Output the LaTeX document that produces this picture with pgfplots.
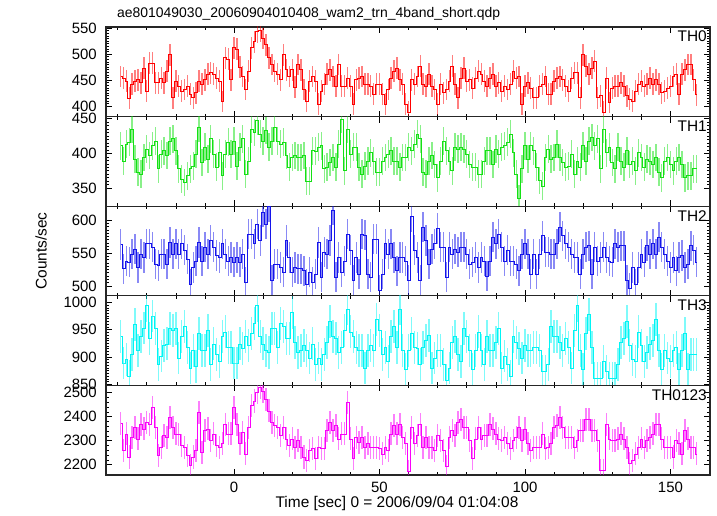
\documentclass[border=0pt]{standalone}
\usepackage{fontspec}
\setmainfont{Liberation Sans}
\usepackage{pgfplots}
\usepackage{pgfplotstable}
\pgfplotsset{compat=1.18}
\definecolor{cR}{RGB}{255,0,0}
\definecolor{cG}{RGB}{20,225,20}
\definecolor{cB}{RGB}{20,20,235}
\definecolor{cC}{RGB}{0,245,245}
\definecolor{cM}{RGB}{250,0,250}
\pgfplotstableread{
t a b c d e
-39 457 411 563 937 2372
-38 454 389 526 889 2259
-37 448 413 538 895 2328
-36 415 416 536 864 2232
-35 442 435 548 905 2314
-34 448 392 556 959 2355
-33 451 373 528 912 2307
-32 445 370 548 937 2369
-31 473 394 543 953 2349
-30 429 406 564 994 2376
-29 483 397 564 934 2369
-28 483 411 559 975 2438
-27 445 418 533 952 2355
-26 445 378 531 886 2239
-25 454 399 548 902 2273
-24 445 404 548 921 2321
-23 467 397 533 924 2314
-22 499 418 566 952 2396
-21 416 421 548 949 2355
-20 448 404 564 952 2328
-19 439 378 548 898 2325
-18 429 363 564 937 2280
-17 432 358 554 956 2273
-16 439 368 541 918 2239
-15 423 378 503 880 2198
-14 416 382 528 912 2232
-13 426 399 538 883 2259
-12 448 437 566 943 2417
-11 442 387 538 912 2252
-10 451 409 559 912 2341
-9 461 392 548 949 2349
-8 464 421 569 886 2300
-7 461 399 559 924 2328
-6 454 380 546 905 2280
-5 448 401 543 892 2273
-4 409 368 564 937 2287
-3 493 399 548 946 2369
-2 490 416 538 918 2328
-1 451 399 543 918 2328
0 512 418 536 889 2438
1 510 382 543 889 2369
2 475 409 536 924 2287
3 457 421 548 915 2335
4 432 370 505 937 2245
5 467 389 579 921 2355
6 512 435 579 943 2445
7 524 430 564 962 2465
8 543 447 594 994 2500
9 545 428 569 937 2520
10 530 418 612 924 2506
11 518 433 594 912 2472
12 493 409 620 908 2424
13 480 418 508 952 2376
14 467 437 533 952 2362
15 461 418 533 918 2355
16 451 413 528 962 2321
17 499 416 521 956 2355
18 470 397 569 934 2307
19 457 380 543 934 2280
20 470 394 521 981 2307
21 437 397 528 927 2273
22 480 394 526 908 2300
23 470 394 526 912 2273
24 432 397 523 921 2232
25 410 360 503 912 2218
26 448 360 521 898 2259
27 457 404 505 924 2266
28 448 403 518 886 2225
29 404 409 566 898 2273
30 429 411 513 886 2266
31 442 378 551 905 2266
32 461 380 548 927 2341
33 470 387 569 965 2376
34 457 394 615 937 2341
35 439 380 513 934 2362
36 480 413 543 908 2307
37 439 449 521 918 2328
38 439 375 538 949 2328
39 454 435 579 988 2458
40 439 399 554 946 2307
41 404 409 508 937 2225
42 451 409 543 918 2314
43 454 380 518 912 2293
44 457 370 579 912 2314
45 442 382 577 880 2273
46 442 389 518 912 2287
47 439 401 513 921 2273
48 423 389 571 912 2273
49 442 373 571 969 2273
50 442 373 493 949 2266
51 423 389 518 905 2245
52 404 394 564 918 2273
53 432 399 548 892 2259
54 454 404 564 937 2328
55 467 389 543 956 2362
56 473 389 523 918 2328
57 451 380 543 988 2369
58 442 394 543 912 2314
59 404 394 538 877 2287
60 388 409 508 912 2171
61 451 404 605 943 2355
62 442 413 554 918 2287
63 457 428 543 915 2321
64 477 421 508 886 2369
65 442 373 589 918 2273
66 439 370 569 930 2314
67 461 389 533 940 2273
68 439 397 556 880 2273
69 432 384 564 898 2259
70 404 365 587 912 2321
71 442 389 559 912 2300
72 426 418 559 886 2259
73 432 404 513 857 2191
74 448 389 559 880 2314
75 477 375 548 927 2341
76 442 409 556 937 2321
77 416 406 551 905 2376
78 454 409 559 892 2389
79 473 406 559 952 2355
80 448 399 548 937 2355
81 451 384 533 912 2300
82 435 380 536 877 2225
83 454 380 543 912 2307
84 467 370 528 946 2355
85 461 370 543 912 2307
86 448 389 538 886 2321
87 439 404 515 937 2321
88 454 404 538 912 2369
89 461 384 574 912 2349
90 439 406 564 927 2328
91 445 399 579 952 2307
92 429 409 559 880 2300
93 439 411 538 902 2314
94 432 416 554 886 2287
95 442 428 538 864 2266
96 467 401 538 937 2300
97 454 370 533 927 2314
98 457 335 523 915 2355
99 404 378 548 898 2300
100 439 411 564 921 2349
101 445 392 548 912 2287
102 435 411 518 912 2259
103 416 404 548 918 2273
104 416 380 518 918 2273
105 439 361 548 912 2273
106 442 353 576 874 2328
107 457 394 551 874 2266
108 423 406 551 886 2273
109 423 392 548 956 2287
110 448 394 548 937 2355
111 454 413 564 937 2362
112 457 394 589 927 2396
113 451 387 576 912 2355
114 439 380 564 934 2314
115 429 382 559 918 2314
116 454 399 548 880 2314
117 464 370 543 949 2273
118 464 389 543 994 2300
119 416 380 518 912 2341
120 499 411 548 877 2341
121 477 389 559 943 2389
122 461 418 561 978 2389
123 473 423 518 918 2341
124 486 411 559 861 2341
125 416 421 538 861 2300
126 420 378 543 861 2177
127 388 435 559 892 2177
128 454 401 543 874 2369
129 407 409 538 861 2307
130 435 387 536 861 2300
131 439 378 564 861 2300
132 439 409 559 886 2307
133 445 389 561 927 2328
134 439 380 561 934 2307
135 420 404 508 965 2273
136 413 384 497 921 2204
137 410 389 528 895 2218
138 429 375 503 892 2245
139 442 401 528 946 2273
140 448 394 548 921 2307
141 439 380 536 892 2273
142 442 392 561 908 2300
143 454 389 548 924 2314
144 442 384 564 930 2328
145 451 394 548 969 2369
146 442 373 574 912 2369
147 426 365 559 877 2307
148 429 389 548 912 2273
149 435 394 538 898 2273
150 439 384 528 892 2273
151 457 375 543 912 2232
152 461 389 523 918 2300
153 423 394 543 877 2287
154 461 384 546 912 2245
155 470 365 528 943 2341
156 480 368 533 877 2307
157 480 368 561 905 2273
158 451 378 554 905 2273
159 422 378 536 905 2245
}\lc
\pgfplotsset{
  panel/.style={
    width=604bp, height=89.6bp, scale only axis, anchor=south west,
    xmin=-44, xmax=163.6, xtick distance=50, minor x tick num=4,
    minor y tick num=9,
    tick align=inside, tick pos=both,
    major tick length=6bp, minor tick length=3bp,
    axis line style={line width=1.1bp, black!85},
    every tick/.style={black, line width=0.6bp},
    scaled ticks=false,
    /pgf/number format/1000 sep={},
    /pgf/number format/assume math mode=true,
    tick label style={font=\fontsize{15}{17}\selectfont},
    yticklabel style={anchor=east, inner sep=0pt, xshift=-9bp},
    xticklabel style={anchor=north, inner sep=0pt, yshift=-7bp},
    xticklabels={},
  },
  lc/.style 2 args={const plot mark mid, #1, line width=0.7bp, mark=none,
    error bars/.cd, y dir=both, y fixed=#2, error mark=none,
    error bar style={line width=1.4bp, #1, opacity=0.5}, /pgfplots/.cd},
}
\newcommand{\plab}[1]{\node[anchor=north east, inner sep=0pt, font=\fontsize{15.5}{17}\selectfont] at ([xshift=-3bp,yshift=-4bp]rel axis cs:1,1) {#1};}
\begin{document}
\begin{tikzpicture}[x=1bp,y=1bp]
\path[use as bounding box] (0,0) rectangle (717,516);
\begin{axis}[panel, at={(106bp,399.4bp)}, ymin=380, ymax=552, ytick={400,450,500,550}]
\addplot[lc={cR}{21}] table[x=t,y=a]{\lc};
\plab{TH0}
\end{axis}
\begin{axis}[panel, at={(106bp,309.8bp)}, ymin=324, ymax=453, ytick={350,400,450}]
\addplot[lc={cG}{20}] table[x=t,y=b]{\lc};
\plab{TH1}
\end{axis}
\begin{axis}[panel, at={(106bp,220.2bp)}, ymin=485, ymax=621, ytick={500,550,600}]
\addplot[lc={cB}{23}] table[x=t,y=c]{\lc};
\plab{TH2}
\end{axis}
\begin{axis}[panel, at={(106bp,130.6bp)}, ymin=848, ymax=1012, ytick={850,900,950,1000}]
\addplot[lc={cC}{30}] table[x=t,y=d]{\lc};
\plab{TH3}
\end{axis}
\begin{axis}[panel, at={(106bp,41bp)}, ymin=2157, ymax=2530, ytick={2200,2300,2400,2500},
  minor y tick num=4, xticklabels={0,50,100,150}, xtick={0,50,100,150}]
\addplot[lc={cM}{48}] table[x=t,y=e]{\lc};
\plab{TH0123}
\end{axis}
\node[anchor=base west, inner sep=0pt, font=\fontsize{14}{16}\selectfont] at (117,498) {ae801049030\_20060904010408\_wam2\_trn\_4band\_short.qdp};
\node[rotate=90, inner sep=0pt, font=\fontsize{15.5}{17}\selectfont] at (41,265) {Counts/sec};
\node[anchor=base, inner sep=0pt, font=\fontsize{15.5}{17}\selectfont] at (397,8) {Time [sec] 0 = 2006/09/04 01:04:08};
\end{tikzpicture}
\end{document}
